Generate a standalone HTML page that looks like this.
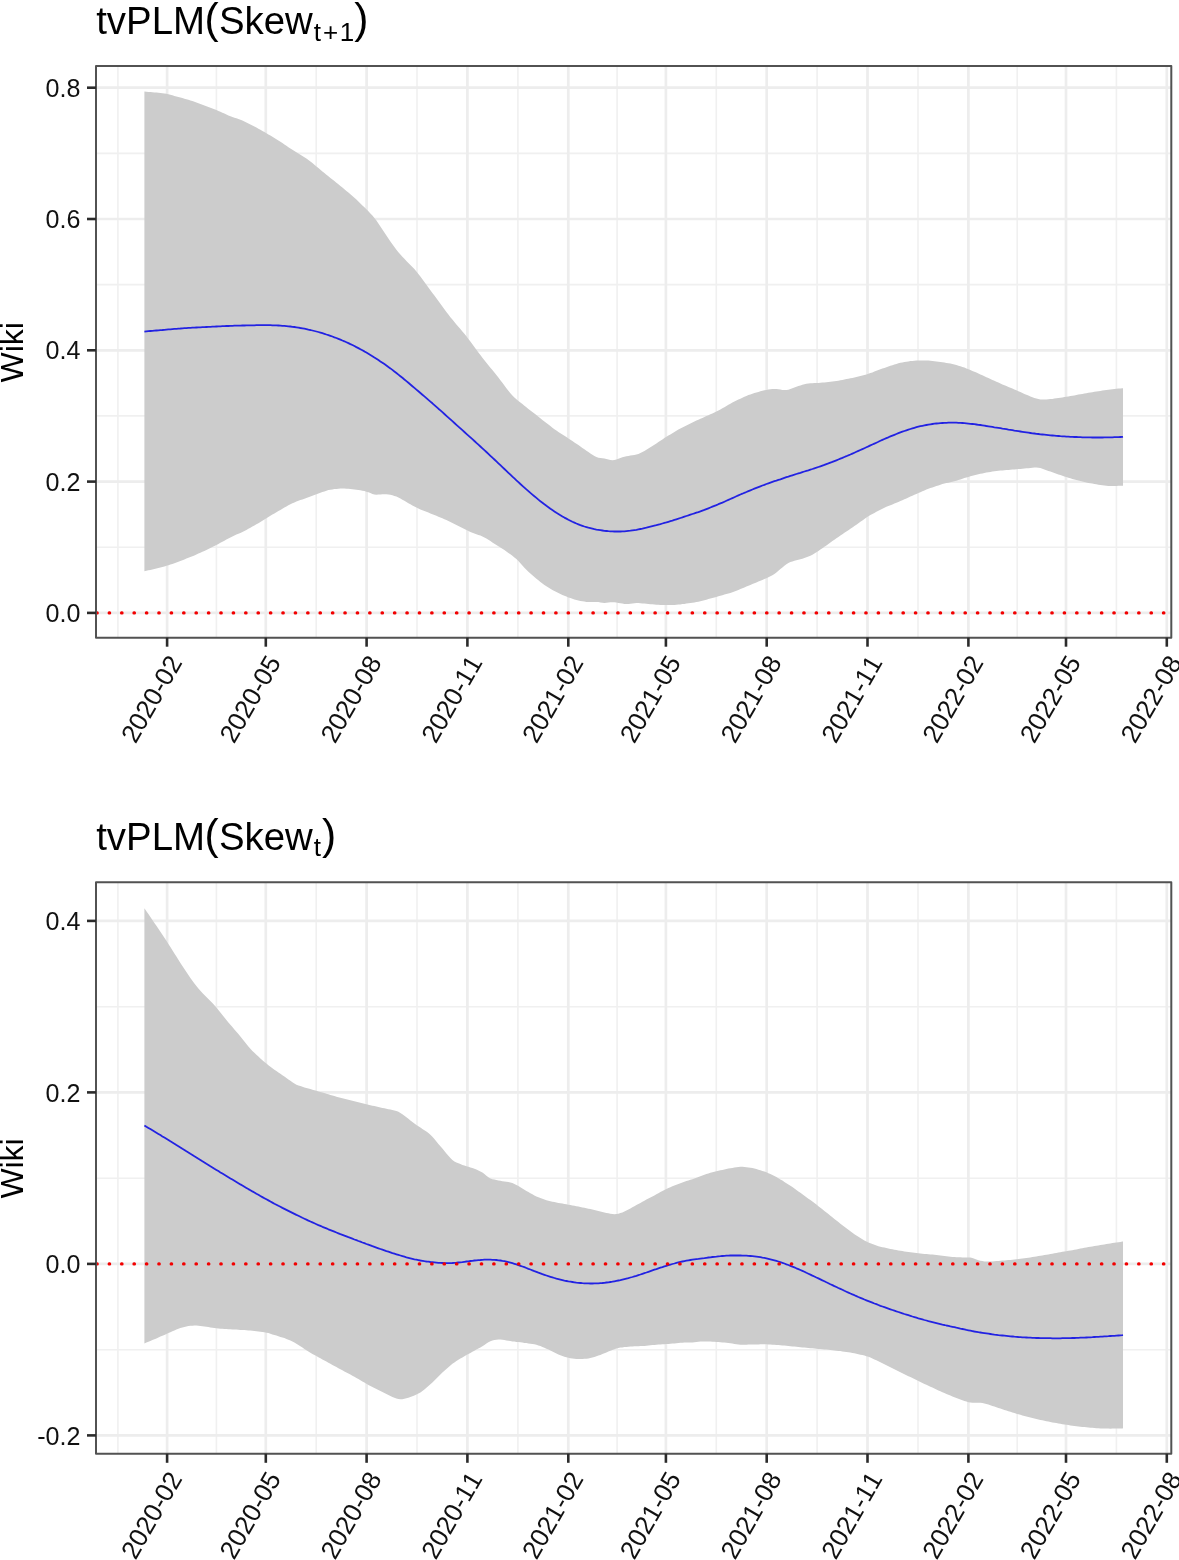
<!DOCTYPE html><html><head><meta charset="utf-8"><style>html,body{margin:0;padding:0;background:#fff}svg{display:block;filter:blur(0.45px)}text{font-kerning:none}</style></head><body><svg width="1179" height="1560" viewBox="0 0 1179 1560" font-family="Liberation Sans, sans-serif">
<rect width="100%" height="100%" fill="#fff"/>
<clipPath id="c1"><rect x="96.0" y="65.9" width="1075.3" height="571.8"/></clipPath>
<g clip-path="url(#c1)">
<line x1="96.0" x2="1171.3" y1="547.2" y2="547.2" stroke="#f0f0f0" stroke-width="1.6"/>
<line x1="96.0" x2="1171.3" y1="415.9" y2="415.9" stroke="#f0f0f0" stroke-width="1.6"/>
<line x1="96.0" x2="1171.3" y1="284.6" y2="284.6" stroke="#f0f0f0" stroke-width="1.6"/>
<line x1="96.0" x2="1171.3" y1="153.4" y2="153.4" stroke="#f0f0f0" stroke-width="1.6"/>
<line x1="117.9" x2="117.9" y1="65.9" y2="637.7" stroke="#f0f0f0" stroke-width="1.6"/>
<line x1="216.4" x2="216.4" y1="65.9" y2="637.7" stroke="#f0f0f0" stroke-width="1.6"/>
<line x1="316.2" x2="316.2" y1="65.9" y2="637.7" stroke="#f0f0f0" stroke-width="1.6"/>
<line x1="417.0" x2="417.0" y1="65.9" y2="637.7" stroke="#f0f0f0" stroke-width="1.6"/>
<line x1="517.9" x2="517.9" y1="65.9" y2="637.7" stroke="#f0f0f0" stroke-width="1.6"/>
<line x1="617.1" x2="617.1" y1="65.9" y2="637.7" stroke="#f0f0f0" stroke-width="1.6"/>
<line x1="716.3" x2="716.3" y1="65.9" y2="637.7" stroke="#f0f0f0" stroke-width="1.6"/>
<line x1="817.1" x2="817.1" y1="65.9" y2="637.7" stroke="#f0f0f0" stroke-width="1.6"/>
<line x1="918.0" x2="918.0" y1="65.9" y2="637.7" stroke="#f0f0f0" stroke-width="1.6"/>
<line x1="1017.2" x2="1017.2" y1="65.9" y2="637.7" stroke="#f0f0f0" stroke-width="1.6"/>
<line x1="1116.4" x2="1116.4" y1="65.9" y2="637.7" stroke="#f0f0f0" stroke-width="1.6"/>
<line x1="96.0" x2="1171.3" y1="612.9" y2="612.9" stroke="#ededed" stroke-width="2.7"/>
<line x1="96.0" x2="1171.3" y1="481.6" y2="481.6" stroke="#ededed" stroke-width="2.7"/>
<line x1="96.0" x2="1171.3" y1="350.3" y2="350.3" stroke="#ededed" stroke-width="2.7"/>
<line x1="96.0" x2="1171.3" y1="219.0" y2="219.0" stroke="#ededed" stroke-width="2.7"/>
<line x1="96.0" x2="1171.3" y1="87.7" y2="87.7" stroke="#ededed" stroke-width="2.7"/>
<line x1="167.1" x2="167.1" y1="65.9" y2="637.7" stroke="#ededed" stroke-width="2.7"/>
<line x1="265.8" x2="265.8" y1="65.9" y2="637.7" stroke="#ededed" stroke-width="2.7"/>
<line x1="366.6" x2="366.6" y1="65.9" y2="637.7" stroke="#ededed" stroke-width="2.7"/>
<line x1="467.4" x2="467.4" y1="65.9" y2="637.7" stroke="#ededed" stroke-width="2.7"/>
<line x1="568.3" x2="568.3" y1="65.9" y2="637.7" stroke="#ededed" stroke-width="2.7"/>
<line x1="665.9" x2="665.9" y1="65.9" y2="637.7" stroke="#ededed" stroke-width="2.7"/>
<line x1="766.7" x2="766.7" y1="65.9" y2="637.7" stroke="#ededed" stroke-width="2.7"/>
<line x1="867.5" x2="867.5" y1="65.9" y2="637.7" stroke="#ededed" stroke-width="2.7"/>
<line x1="968.4" x2="968.4" y1="65.9" y2="637.7" stroke="#ededed" stroke-width="2.7"/>
<line x1="1066.0" x2="1066.0" y1="65.9" y2="637.7" stroke="#ededed" stroke-width="2.7"/>
<line x1="1166.8" x2="1166.8" y1="65.9" y2="637.7" stroke="#ededed" stroke-width="2.7"/>
<path d="M144.4,91.6 L146.4,91.8 L148.4,92.0 L150.4,92.1 L152.4,92.3 L154.4,92.5 L156.4,92.6 L158.4,92.8 L160.4,93.0 L162.4,93.2 L164.4,93.4 L166.4,93.8 L168.4,94.2 L170.4,94.8 L172.4,95.3 L174.4,95.9 L176.4,96.4 L178.4,97.0 L180.4,97.5 L182.4,98.1 L184.4,98.7 L186.4,99.2 L188.4,99.8 L190.4,100.4 L192.4,101.1 L194.4,101.8 L196.4,102.5 L198.4,103.2 L200.4,104.0 L202.4,104.7 L204.4,105.5 L206.4,106.2 L208.4,106.9 L210.4,107.7 L212.4,108.4 L214.4,109.2 L216.4,110.0 L218.4,110.9 L220.4,111.8 L222.4,112.7 L224.4,113.6 L226.4,114.6 L228.4,115.5 L230.4,116.3 L232.4,117.1 L234.4,117.7 L236.4,118.3 L238.4,119.0 L240.4,119.7 L242.4,120.6 L244.4,121.6 L246.4,122.6 L248.4,123.6 L250.4,124.6 L252.4,125.6 L254.4,126.6 L256.4,127.6 L258.4,128.7 L260.4,129.8 L262.4,131.0 L264.4,132.1 L266.4,133.3 L268.4,134.4 L270.4,135.5 L272.4,136.7 L274.4,137.9 L276.4,139.2 L278.4,140.5 L280.4,141.8 L282.4,143.1 L284.4,144.5 L286.4,145.8 L288.4,147.2 L290.4,148.5 L292.4,149.8 L294.4,151.1 L296.4,152.3 L298.4,153.6 L300.4,154.8 L302.4,156.0 L304.4,157.3 L306.4,158.6 L308.4,160.0 L310.4,161.5 L312.4,163.1 L314.4,164.8 L316.4,166.5 L318.4,168.1 L320.4,169.8 L322.4,171.4 L324.4,173.1 L326.4,174.7 L328.4,176.3 L330.4,177.9 L332.4,179.5 L334.4,181.1 L336.4,182.7 L338.4,184.3 L340.4,186.0 L342.4,187.6 L344.4,189.3 L346.4,191.0 L348.4,192.6 L350.4,194.3 L352.4,196.0 L354.4,197.8 L356.4,199.6 L358.4,201.5 L360.4,203.4 L362.4,205.4 L364.4,207.3 L366.4,209.3 L368.4,211.3 L370.4,213.4 L372.4,215.6 L374.4,217.9 L376.4,220.5 L378.4,223.4 L380.4,226.5 L382.4,229.6 L384.4,232.6 L386.4,235.6 L388.4,238.5 L390.4,241.4 L392.4,244.3 L394.4,247.1 L396.4,249.8 L398.4,252.3 L400.4,254.5 L402.4,256.7 L404.4,258.8 L406.4,260.9 L408.4,263.0 L410.4,265.0 L412.4,267.0 L414.4,269.1 L416.4,271.4 L418.4,273.9 L420.4,276.6 L422.4,279.3 L424.4,282.0 L426.4,284.7 L428.4,287.4 L430.4,290.2 L432.4,292.9 L434.4,295.6 L436.4,298.3 L438.4,301.0 L440.4,303.7 L442.4,306.4 L444.4,309.2 L446.4,311.9 L448.4,314.5 L450.4,317.2 L452.4,319.6 L454.4,322.0 L456.4,324.4 L458.4,326.7 L460.4,329.1 L462.4,331.4 L464.4,333.8 L466.4,336.3 L468.4,338.9 L470.4,341.5 L472.4,344.2 L474.4,347.0 L476.4,349.7 L478.4,352.4 L480.4,355.1 L482.4,357.8 L484.4,360.3 L486.4,362.8 L488.4,365.3 L490.4,367.7 L492.4,370.1 L494.4,372.5 L496.4,375.0 L498.4,377.5 L500.4,380.2 L502.4,382.8 L504.4,385.5 L506.4,388.2 L508.4,390.8 L510.4,393.3 L512.4,395.5 L514.4,397.5 L516.4,399.2 L518.4,400.9 L520.4,402.5 L522.4,404.1 L524.4,405.7 L526.4,407.3 L528.4,408.9 L530.4,410.4 L532.4,412.0 L534.4,413.6 L536.4,415.1 L538.4,416.7 L540.4,418.3 L542.4,419.9 L544.4,421.4 L546.4,423.0 L548.4,424.6 L550.4,426.1 L552.4,427.7 L554.4,429.2 L556.4,430.6 L558.4,432.0 L560.4,433.3 L562.4,434.5 L564.4,435.8 L566.4,437.1 L568.4,438.4 L570.4,439.7 L572.4,441.0 L574.4,442.4 L576.4,443.7 L578.4,445.1 L580.4,446.5 L582.4,447.9 L584.4,449.3 L586.4,450.7 L588.4,452.1 L590.4,453.4 L592.4,454.7 L594.4,456.0 L596.4,457.0 L598.4,457.7 L600.4,458.1 L602.4,458.3 L604.4,458.6 L606.4,459.1 L608.4,459.6 L610.4,460.1 L612.4,460.3 L614.4,460.0 L616.4,459.4 L618.4,458.7 L620.4,458.0 L622.4,457.3 L624.4,456.7 L626.4,456.3 L628.4,455.9 L630.4,455.6 L632.4,455.2 L634.4,454.9 L636.4,454.5 L638.4,453.9 L640.4,453.1 L642.4,452.1 L644.4,451.0 L646.4,449.8 L648.4,448.6 L650.4,447.3 L652.4,446.1 L654.4,444.8 L656.4,443.5 L658.4,442.1 L660.4,440.8 L662.4,439.5 L664.4,438.1 L666.4,436.8 L668.4,435.6 L670.4,434.4 L672.4,433.2 L674.4,432.0 L676.4,430.8 L678.4,429.6 L680.4,428.5 L682.4,427.4 L684.4,426.4 L686.4,425.4 L688.4,424.4 L690.4,423.4 L692.4,422.4 L694.4,421.5 L696.4,420.6 L698.4,419.7 L700.4,418.8 L702.4,417.9 L704.4,417.0 L706.4,416.1 L708.4,415.2 L710.4,414.3 L712.4,413.4 L714.4,412.5 L716.4,411.6 L718.4,410.6 L720.4,409.5 L722.4,408.3 L724.4,407.2 L726.4,406.0 L728.4,404.8 L730.4,403.7 L732.4,402.6 L734.4,401.5 L736.4,400.6 L738.4,399.6 L740.4,398.7 L742.4,397.7 L744.4,396.8 L746.4,395.9 L748.4,395.1 L750.4,394.4 L752.4,393.7 L754.4,393.1 L756.4,392.5 L758.4,391.9 L760.4,391.3 L762.4,390.8 L764.4,390.3 L766.4,389.9 L768.4,389.5 L770.4,389.2 L772.4,388.9 L774.4,388.9 L776.4,389.0 L778.4,389.2 L780.4,389.6 L782.4,389.9 L784.4,390.1 L786.4,390.0 L788.4,389.7 L790.4,389.0 L792.4,388.3 L794.4,387.5 L796.4,386.8 L798.4,386.1 L800.4,385.4 L802.4,384.8 L804.4,384.3 L806.4,383.8 L808.4,383.5 L810.4,383.3 L812.4,383.2 L814.4,383.1 L816.4,383.0 L818.4,382.9 L820.4,382.7 L822.4,382.6 L824.4,382.4 L826.4,382.2 L828.4,382.0 L830.4,381.7 L832.4,381.5 L834.4,381.3 L836.4,381.0 L838.4,380.7 L840.4,380.3 L842.4,379.9 L844.4,379.5 L846.4,379.1 L848.4,378.7 L850.4,378.3 L852.4,377.9 L854.4,377.4 L856.4,376.9 L858.4,376.4 L860.4,375.9 L862.4,375.4 L864.4,374.9 L866.4,374.4 L868.4,373.8 L870.4,373.1 L872.4,372.4 L874.4,371.6 L876.4,370.8 L878.4,370.1 L880.4,369.3 L882.4,368.6 L884.4,367.9 L886.4,367.2 L888.4,366.5 L890.4,365.8 L892.4,365.2 L894.4,364.5 L896.4,363.9 L898.4,363.3 L900.4,362.8 L902.4,362.5 L904.4,362.1 L906.4,361.8 L908.4,361.5 L910.4,361.1 L912.4,360.9 L914.4,360.7 L916.4,360.6 L918.4,360.5 L920.4,360.5 L922.4,360.5 L924.4,360.5 L926.4,360.6 L928.4,360.6 L930.4,360.8 L932.4,361.0 L934.4,361.2 L936.4,361.5 L938.4,361.8 L940.4,362.0 L942.4,362.3 L944.4,362.6 L946.4,362.9 L948.4,363.2 L950.4,363.6 L952.4,364.0 L954.4,364.6 L956.4,365.1 L958.4,365.7 L960.4,366.3 L962.4,367.0 L964.4,367.6 L966.4,368.4 L968.4,369.2 L970.4,370.0 L972.4,370.9 L974.4,371.7 L976.4,372.6 L978.4,373.5 L980.4,374.4 L982.4,375.3 L984.4,376.3 L986.4,377.2 L988.4,378.1 L990.4,379.0 L992.4,379.9 L994.4,380.8 L996.4,381.7 L998.4,382.6 L1000.4,383.5 L1002.4,384.4 L1004.4,385.2 L1006.4,386.0 L1008.4,386.9 L1010.4,387.7 L1012.4,388.6 L1014.4,389.4 L1016.4,390.3 L1018.4,391.2 L1020.4,392.1 L1022.4,393.0 L1024.4,393.9 L1026.4,394.7 L1028.4,395.6 L1030.4,396.4 L1032.4,397.2 L1034.4,397.9 L1036.4,398.6 L1038.4,399.1 L1040.4,399.4 L1042.4,399.4 L1044.4,399.4 L1046.4,399.4 L1048.4,399.3 L1050.4,399.1 L1052.4,398.9 L1054.4,398.6 L1056.4,398.3 L1058.4,398.0 L1060.4,397.7 L1062.4,397.4 L1064.4,397.0 L1066.4,396.7 L1068.4,396.4 L1070.4,396.0 L1072.4,395.7 L1074.4,395.4 L1076.4,395.0 L1078.4,394.6 L1080.4,394.3 L1082.4,393.9 L1084.4,393.5 L1086.4,393.2 L1088.4,392.8 L1090.4,392.5 L1092.4,392.2 L1094.4,391.8 L1096.4,391.5 L1098.4,391.2 L1100.4,390.9 L1102.4,390.6 L1104.4,390.3 L1106.4,390.0 L1108.4,389.7 L1110.4,389.4 L1112.4,389.2 L1114.4,389.0 L1116.4,388.8 L1118.4,388.6 L1120.4,388.4 L1122.4,388.3 L1123.0,388.2 L1123.0,485.7 L1122.4,485.7 L1120.4,485.8 L1118.4,485.8 L1116.4,485.9 L1114.4,485.9 L1112.4,486.0 L1110.4,486.0 L1108.4,485.9 L1106.4,485.8 L1104.4,485.5 L1102.4,485.3 L1100.4,485.0 L1098.4,484.7 L1096.4,484.3 L1094.4,484.0 L1092.4,483.6 L1090.4,483.3 L1088.4,482.9 L1086.4,482.5 L1084.4,482.0 L1082.4,481.5 L1080.4,481.1 L1078.4,480.6 L1076.4,480.0 L1074.4,479.5 L1072.4,478.9 L1070.4,478.3 L1068.4,477.7 L1066.4,477.1 L1064.4,476.4 L1062.4,475.8 L1060.4,475.1 L1058.4,474.4 L1056.4,473.7 L1054.4,473.0 L1052.4,472.3 L1050.4,471.6 L1048.4,470.9 L1046.4,470.2 L1044.4,469.5 L1042.4,468.7 L1040.4,468.1 L1038.4,467.7 L1036.4,467.5 L1034.4,467.6 L1032.4,467.8 L1030.4,468.0 L1028.4,468.2 L1026.4,468.3 L1024.4,468.5 L1022.4,468.7 L1020.4,468.9 L1018.4,469.0 L1016.4,469.2 L1014.4,469.4 L1012.4,469.5 L1010.4,469.7 L1008.4,469.9 L1006.4,470.0 L1004.4,470.2 L1002.4,470.4 L1000.4,470.6 L998.4,470.8 L996.4,471.0 L994.4,471.3 L992.4,471.6 L990.4,471.9 L988.4,472.2 L986.4,472.6 L984.4,473.0 L982.4,473.4 L980.4,473.8 L978.4,474.2 L976.4,474.7 L974.4,475.2 L972.4,475.8 L970.4,476.3 L968.4,476.9 L966.4,477.5 L964.4,478.1 L962.4,478.8 L960.4,479.5 L958.4,480.1 L956.4,480.7 L954.4,481.3 L952.4,481.8 L950.4,482.3 L948.4,482.7 L946.4,483.1 L944.4,483.6 L942.4,484.1 L940.4,484.8 L938.4,485.4 L936.4,486.1 L934.4,486.7 L932.4,487.4 L930.4,488.1 L928.4,488.8 L926.4,489.6 L924.4,490.4 L922.4,491.3 L920.4,492.2 L918.4,493.0 L916.4,493.9 L914.4,494.8 L912.4,495.7 L910.4,496.6 L908.4,497.5 L906.4,498.4 L904.4,499.3 L902.4,500.2 L900.4,501.0 L898.4,501.9 L896.4,502.7 L894.4,503.5 L892.4,504.4 L890.4,505.2 L888.4,506.0 L886.4,506.8 L884.4,507.7 L882.4,508.7 L880.4,509.7 L878.4,510.8 L876.4,511.8 L874.4,512.9 L872.4,514.0 L870.4,515.1 L868.4,516.3 L866.4,517.6 L864.4,518.9 L862.4,520.4 L860.4,521.8 L858.4,523.2 L856.4,524.7 L854.4,526.1 L852.4,527.5 L850.4,528.8 L848.4,530.2 L846.4,531.5 L844.4,532.8 L842.4,534.2 L840.4,535.5 L838.4,536.9 L836.4,538.3 L834.4,539.7 L832.4,541.1 L830.4,542.5 L828.4,544.0 L826.4,545.4 L824.4,546.8 L822.4,548.2 L820.4,549.6 L818.4,551.0 L816.4,552.3 L814.4,553.6 L812.4,554.8 L810.4,555.7 L808.4,556.6 L806.4,557.3 L804.4,558.1 L802.4,558.7 L800.4,559.3 L798.4,559.8 L796.4,560.3 L794.4,560.8 L792.4,561.4 L790.4,562.1 L788.4,563.0 L786.4,564.3 L784.4,565.8 L782.4,567.4 L780.4,569.1 L778.4,570.8 L776.4,572.5 L774.4,574.0 L772.4,575.3 L770.4,576.3 L768.4,577.3 L766.4,578.2 L764.4,579.1 L762.4,579.9 L760.4,580.8 L758.4,581.6 L756.4,582.4 L754.4,583.3 L752.4,584.1 L750.4,584.9 L748.4,585.8 L746.4,586.6 L744.4,587.4 L742.4,588.3 L740.4,589.1 L738.4,589.9 L736.4,590.8 L734.4,591.5 L732.4,592.2 L730.4,592.9 L728.4,593.5 L726.4,594.0 L724.4,594.6 L722.4,595.2 L720.4,595.8 L718.4,596.3 L716.4,596.9 L714.4,597.5 L712.4,598.0 L710.4,598.6 L708.4,599.1 L706.4,599.7 L704.4,600.3 L702.4,600.8 L700.4,601.3 L698.4,601.7 L696.4,602.1 L694.4,602.4 L692.4,602.7 L690.4,603.0 L688.4,603.3 L686.4,603.6 L684.4,603.9 L682.4,604.1 L680.4,604.4 L678.4,604.6 L676.4,604.8 L674.4,605.0 L672.4,605.1 L670.4,605.1 L668.4,605.1 L666.4,605.1 L664.4,605.1 L662.4,605.0 L660.4,604.9 L658.4,604.8 L656.4,604.7 L654.4,604.5 L652.4,604.3 L650.4,604.2 L648.4,604.0 L646.4,603.8 L644.4,603.6 L642.4,603.4 L640.4,603.2 L638.4,603.1 L636.4,603.0 L634.4,603.2 L632.4,603.4 L630.4,603.7 L628.4,603.9 L626.4,604.0 L624.4,603.9 L622.4,603.6 L620.4,603.2 L618.4,602.9 L616.4,602.6 L614.4,602.3 L612.4,602.2 L610.4,602.2 L608.4,602.4 L606.4,602.8 L604.4,603.0 L602.4,602.8 L600.4,602.5 L598.4,602.1 L596.4,602.0 L594.4,602.0 L592.4,602.1 L590.4,602.1 L588.4,602.1 L586.4,601.9 L584.4,601.6 L582.4,601.3 L580.4,600.9 L578.4,600.5 L576.4,600.0 L574.4,599.4 L572.4,598.8 L570.4,598.1 L568.4,597.4 L566.4,596.6 L564.4,595.8 L562.4,594.9 L560.4,594.0 L558.4,593.0 L556.4,592.0 L554.4,591.0 L552.4,589.9 L550.4,588.7 L548.4,587.6 L546.4,586.3 L544.4,584.9 L542.4,583.4 L540.4,581.9 L538.4,580.3 L536.4,578.7 L534.4,577.0 L532.4,575.3 L530.4,573.5 L528.4,571.7 L526.4,569.8 L524.4,567.7 L522.4,565.4 L520.4,563.2 L518.4,561.1 L516.4,559.1 L514.4,557.4 L512.4,555.8 L510.4,554.3 L508.4,552.9 L506.4,551.4 L504.4,550.1 L502.4,548.8 L500.4,547.6 L498.4,546.3 L496.4,545.0 L494.4,543.8 L492.4,542.4 L490.4,541.1 L488.4,539.8 L486.4,538.5 L484.4,537.4 L482.4,536.4 L480.4,535.6 L478.4,534.9 L476.4,534.2 L474.4,533.5 L472.4,532.8 L470.4,531.9 L468.4,531.0 L466.4,530.1 L464.4,529.1 L462.4,528.1 L460.4,527.1 L458.4,526.1 L456.4,525.1 L454.4,524.1 L452.4,523.1 L450.4,522.1 L448.4,521.1 L446.4,520.1 L444.4,519.2 L442.4,518.3 L440.4,517.5 L438.4,516.7 L436.4,515.8 L434.4,515.0 L432.4,514.2 L430.4,513.4 L428.4,512.6 L426.4,511.8 L424.4,511.0 L422.4,510.3 L420.4,509.4 L418.4,508.5 L416.4,507.6 L414.4,506.5 L412.4,505.5 L410.4,504.3 L408.4,503.2 L406.4,502.0 L404.4,500.8 L402.4,499.7 L400.4,498.6 L398.4,497.5 L396.4,496.6 L394.4,495.9 L392.4,495.3 L390.4,494.8 L388.4,494.5 L386.4,494.3 L384.4,494.3 L382.4,494.3 L380.4,494.4 L378.4,494.6 L376.4,494.7 L374.4,494.5 L372.4,493.9 L370.4,493.1 L368.4,492.3 L366.4,491.7 L364.4,491.1 L362.4,490.7 L360.4,490.3 L358.4,490.0 L356.4,489.7 L354.4,489.4 L352.4,489.2 L350.4,489.0 L348.4,488.8 L346.4,488.7 L344.4,488.6 L342.4,488.5 L340.4,488.5 L338.4,488.7 L336.4,488.9 L334.4,489.1 L332.4,489.4 L330.4,489.7 L328.4,490.1 L326.4,490.7 L324.4,491.4 L322.4,492.1 L320.4,492.8 L318.4,493.6 L316.4,494.3 L314.4,495.1 L312.4,495.8 L310.4,496.6 L308.4,497.3 L306.4,498.0 L304.4,498.7 L302.4,499.4 L300.4,500.1 L298.4,500.8 L296.4,501.5 L294.4,502.4 L292.4,503.3 L290.4,504.3 L288.4,505.3 L286.4,506.4 L284.4,507.6 L282.4,508.7 L280.4,509.9 L278.4,511.1 L276.4,512.2 L274.4,513.4 L272.4,514.6 L270.4,515.8 L268.4,517.0 L266.4,518.3 L264.4,519.5 L262.4,520.7 L260.4,522.0 L258.4,523.2 L256.4,524.3 L254.4,525.5 L252.4,526.6 L250.4,527.7 L248.4,528.8 L246.4,529.9 L244.4,530.9 L242.4,532.0 L240.4,532.9 L238.4,533.7 L236.4,534.6 L234.4,535.5 L232.4,536.4 L230.4,537.5 L228.4,538.5 L226.4,539.6 L224.4,540.7 L222.4,541.7 L220.4,542.8 L218.4,543.9 L216.4,544.9 L214.4,546.0 L212.4,547.0 L210.4,548.0 L208.4,549.0 L206.4,549.9 L204.4,550.9 L202.4,551.8 L200.4,552.7 L198.4,553.6 L196.4,554.5 L194.4,555.4 L192.4,556.2 L190.4,557.0 L188.4,557.8 L186.4,558.6 L184.4,559.4 L182.4,560.2 L180.4,561.0 L178.4,561.7 L176.4,562.4 L174.4,563.2 L172.4,563.9 L170.4,564.6 L168.4,565.2 L166.4,565.8 L164.4,566.4 L162.4,566.9 L160.4,567.4 L158.4,567.9 L156.4,568.4 L154.4,568.9 L152.4,569.4 L150.4,569.9 L148.4,570.3 L146.4,570.8 L144.4,571.2Z" fill="#cccccc"/>
<path d="M144.4,331.6 L146.4,331.4 L148.4,331.2 L150.4,331.0 L152.4,330.9 L154.4,330.7 L156.4,330.5 L158.4,330.3 L160.4,330.1 L162.4,330.0 L164.4,329.8 L166.4,329.6 L168.4,329.4 L170.4,329.3 L172.4,329.1 L174.4,328.9 L176.4,328.8 L178.4,328.6 L180.4,328.5 L182.4,328.3 L184.4,328.2 L186.4,328.1 L188.4,327.9 L190.4,327.8 L192.4,327.7 L194.4,327.6 L196.4,327.5 L198.4,327.4 L200.4,327.3 L202.4,327.2 L204.4,327.1 L206.4,327.0 L208.4,326.9 L210.4,326.8 L212.4,326.7 L214.4,326.6 L216.4,326.5 L218.4,326.4 L220.4,326.3 L222.4,326.2 L224.4,326.1 L226.4,326.0 L228.4,326.0 L230.4,325.9 L232.4,325.8 L234.4,325.7 L236.4,325.7 L238.4,325.6 L240.4,325.6 L242.4,325.5 L244.4,325.5 L246.4,325.4 L248.4,325.4 L250.4,325.3 L252.4,325.3 L254.4,325.3 L256.4,325.2 L258.4,325.2 L260.4,325.2 L262.4,325.2 L264.4,325.2 L266.4,325.2 L268.4,325.2 L270.4,325.2 L272.4,325.3 L274.4,325.4 L276.4,325.4 L278.4,325.5 L280.4,325.6 L282.4,325.8 L284.4,325.9 L286.4,326.1 L288.4,326.3 L290.4,326.5 L292.4,326.8 L294.4,327.0 L296.4,327.3 L298.4,327.6 L300.4,328.0 L302.4,328.3 L304.4,328.7 L306.4,329.1 L308.4,329.6 L310.4,330.0 L312.4,330.5 L314.4,331.0 L316.4,331.5 L318.4,332.0 L320.4,332.6 L322.4,333.2 L324.4,333.8 L326.4,334.5 L328.4,335.1 L330.4,335.8 L332.4,336.5 L334.4,337.3 L336.4,338.0 L338.4,338.8 L340.4,339.6 L342.4,340.5 L344.4,341.3 L346.4,342.2 L348.4,343.1 L350.4,344.1 L352.4,345.0 L354.4,346.0 L356.4,347.1 L358.4,348.1 L360.4,349.2 L362.4,350.3 L364.4,351.4 L366.4,352.6 L368.4,353.8 L370.4,355.0 L372.4,356.2 L374.4,357.5 L376.4,358.7 L378.4,360.0 L380.4,361.4 L382.4,362.7 L384.4,364.1 L386.4,365.5 L388.4,367.0 L390.4,368.4 L392.4,369.9 L394.4,371.5 L396.4,373.0 L398.4,374.6 L400.4,376.2 L402.4,377.8 L404.4,379.5 L406.4,381.1 L408.4,382.8 L410.4,384.5 L412.4,386.2 L414.4,387.9 L416.4,389.6 L418.4,391.3 L420.4,393.0 L422.4,394.7 L424.4,396.4 L426.4,398.1 L428.4,399.9 L430.4,401.6 L432.4,403.3 L434.4,405.1 L436.4,406.9 L438.4,408.7 L440.4,410.4 L442.4,412.2 L444.4,414.0 L446.4,415.8 L448.4,417.6 L450.4,419.4 L452.4,421.2 L454.4,423.0 L456.4,424.8 L458.4,426.6 L460.4,428.4 L462.4,430.2 L464.4,432.0 L466.4,433.8 L468.4,435.6 L470.4,437.4 L472.4,439.2 L474.4,441.0 L476.4,442.9 L478.4,444.7 L480.4,446.5 L482.4,448.3 L484.4,450.2 L486.4,452.0 L488.4,453.9 L490.4,455.8 L492.4,457.7 L494.4,459.5 L496.4,461.4 L498.4,463.3 L500.4,465.2 L502.4,467.1 L504.4,469.0 L506.4,470.9 L508.4,472.8 L510.4,474.7 L512.4,476.6 L514.4,478.4 L516.4,480.3 L518.4,482.1 L520.4,484.0 L522.4,485.8 L524.4,487.6 L526.4,489.4 L528.4,491.1 L530.4,492.9 L532.4,494.6 L534.4,496.3 L536.4,497.9 L538.4,499.6 L540.4,501.2 L542.4,502.7 L544.4,504.3 L546.4,505.8 L548.4,507.2 L550.4,508.7 L552.4,510.1 L554.4,511.4 L556.4,512.8 L558.4,514.0 L560.4,515.2 L562.4,516.4 L564.4,517.6 L566.4,518.6 L568.4,519.7 L570.4,520.7 L572.4,521.7 L574.4,522.6 L576.4,523.5 L578.4,524.3 L580.4,525.1 L582.4,525.8 L584.4,526.5 L586.4,527.1 L588.4,527.7 L590.4,528.2 L592.4,528.7 L594.4,529.2 L596.4,529.6 L598.4,529.9 L600.4,530.2 L602.4,530.5 L604.4,530.8 L606.4,531.0 L608.4,531.2 L610.4,531.3 L612.4,531.4 L614.4,531.5 L616.4,531.5 L618.4,531.5 L620.4,531.5 L622.4,531.4 L624.4,531.3 L626.4,531.1 L628.4,530.9 L630.4,530.7 L632.4,530.4 L634.4,530.1 L636.4,529.8 L638.4,529.4 L640.4,529.0 L642.4,528.6 L644.4,528.1 L646.4,527.7 L648.4,527.2 L650.4,526.7 L652.4,526.2 L654.4,525.7 L656.4,525.2 L658.4,524.6 L660.4,524.1 L662.4,523.5 L664.4,522.9 L666.4,522.4 L668.4,521.8 L670.4,521.2 L672.4,520.6 L674.4,519.9 L676.4,519.3 L678.4,518.7 L680.4,518.0 L682.4,517.4 L684.4,516.7 L686.4,516.0 L688.4,515.4 L690.4,514.7 L692.4,514.0 L694.4,513.4 L696.4,512.7 L698.4,512.1 L700.4,511.4 L702.4,510.6 L704.4,509.9 L706.4,509.1 L708.4,508.3 L710.4,507.5 L712.4,506.7 L714.4,505.9 L716.4,505.1 L718.4,504.2 L720.4,503.4 L722.4,502.6 L724.4,501.7 L726.4,500.8 L728.4,499.9 L730.4,499.0 L732.4,498.1 L734.4,497.2 L736.4,496.3 L738.4,495.4 L740.4,494.5 L742.4,493.7 L744.4,492.8 L746.4,492.0 L748.4,491.1 L750.4,490.3 L752.4,489.5 L754.4,488.7 L756.4,487.9 L758.4,487.1 L760.4,486.3 L762.4,485.5 L764.4,484.8 L766.4,484.0 L768.4,483.3 L770.4,482.6 L772.4,481.9 L774.4,481.2 L776.4,480.6 L778.4,479.9 L780.4,479.3 L782.4,478.6 L784.4,477.9 L786.4,477.2 L788.4,476.6 L790.4,475.9 L792.4,475.3 L794.4,474.7 L796.4,474.0 L798.4,473.4 L800.4,472.8 L802.4,472.1 L804.4,471.5 L806.4,470.9 L808.4,470.3 L810.4,469.6 L812.4,469.0 L814.4,468.3 L816.4,467.7 L818.4,467.0 L820.4,466.3 L822.4,465.6 L824.4,464.9 L826.4,464.1 L828.4,463.4 L830.4,462.6 L832.4,461.9 L834.4,461.1 L836.4,460.3 L838.4,459.5 L840.4,458.7 L842.4,457.9 L844.4,457.0 L846.4,456.2 L848.4,455.3 L850.4,454.5 L852.4,453.6 L854.4,452.7 L856.4,451.8 L858.4,450.9 L860.4,450.0 L862.4,449.1 L864.4,448.2 L866.4,447.3 L868.4,446.4 L870.4,445.4 L872.4,444.5 L874.4,443.6 L876.4,442.7 L878.4,441.8 L880.4,440.8 L882.4,439.9 L884.4,439.0 L886.4,438.1 L888.4,437.3 L890.4,436.4 L892.4,435.6 L894.4,434.8 L896.4,434.0 L898.4,433.2 L900.4,432.4 L902.4,431.7 L904.4,431.0 L906.4,430.3 L908.4,429.6 L910.4,429.0 L912.4,428.4 L914.4,427.8 L916.4,427.2 L918.4,426.7 L920.4,426.2 L922.4,425.8 L924.4,425.4 L926.4,425.0 L928.4,424.6 L930.4,424.3 L932.4,424.0 L934.4,423.7 L936.4,423.5 L938.4,423.3 L940.4,423.1 L942.4,423.0 L944.4,422.9 L946.4,422.8 L948.4,422.7 L950.4,422.7 L952.4,422.7 L954.4,422.7 L956.4,422.7 L958.4,422.8 L960.4,422.9 L962.4,423.0 L964.4,423.2 L966.4,423.4 L968.4,423.6 L970.4,423.8 L972.4,424.0 L974.4,424.2 L976.4,424.5 L978.4,424.8 L980.4,425.0 L982.4,425.3 L984.4,425.6 L986.4,426.0 L988.4,426.3 L990.4,426.6 L992.4,426.9 L994.4,427.3 L996.4,427.6 L998.4,427.9 L1000.4,428.2 L1002.4,428.6 L1004.4,428.9 L1006.4,429.2 L1008.4,429.6 L1010.4,429.9 L1012.4,430.2 L1014.4,430.6 L1016.4,430.9 L1018.4,431.2 L1020.4,431.5 L1022.4,431.8 L1024.4,432.1 L1026.4,432.4 L1028.4,432.7 L1030.4,433.0 L1032.4,433.3 L1034.4,433.5 L1036.4,433.8 L1038.4,434.0 L1040.4,434.3 L1042.4,434.5 L1044.4,434.7 L1046.4,434.9 L1048.4,435.1 L1050.4,435.3 L1052.4,435.5 L1054.4,435.7 L1056.4,435.9 L1058.4,436.0 L1060.4,436.2 L1062.4,436.3 L1064.4,436.4 L1066.4,436.6 L1068.4,436.7 L1070.4,436.8 L1072.4,436.9 L1074.4,437.0 L1076.4,437.0 L1078.4,437.1 L1080.4,437.2 L1082.4,437.3 L1084.4,437.3 L1086.4,437.4 L1088.4,437.4 L1090.4,437.4 L1092.4,437.5 L1094.4,437.5 L1096.4,437.5 L1098.4,437.5 L1100.4,437.5 L1102.4,437.5 L1104.4,437.4 L1106.4,437.4 L1108.4,437.4 L1110.4,437.3 L1112.4,437.3 L1114.4,437.2 L1116.4,437.1 L1118.4,437.1 L1120.4,437.0 L1122.4,436.9 L1123.0,436.8" fill="none" stroke="#2222e2" stroke-width="1.8" stroke-linejoin="round"/>
<line x1="96.75" x2="1171.3" y1="612.9" y2="612.9" stroke="#f20000" stroke-width="3.2" stroke-linecap="round" stroke-dasharray="0.5 11.903"/>
</g>
<rect x="96.0" y="65.9" width="1075.3" height="571.8" fill="none" stroke="#525252" stroke-width="2.0" stroke-linejoin="round"/>
<line x1="87.0" x2="96.0" y1="612.9" y2="612.9" stroke="#2b2b2b" stroke-width="2.6"/>
<text transform="translate(80.5,622.0) scale(0.985,1)" text-anchor="end" font-size="25.5" fill="#111">0.0</text>
<line x1="87.0" x2="96.0" y1="481.6" y2="481.6" stroke="#2b2b2b" stroke-width="2.6"/>
<text transform="translate(80.5,490.7) scale(0.985,1)" text-anchor="end" font-size="25.5" fill="#111">0.2</text>
<line x1="87.0" x2="96.0" y1="350.3" y2="350.3" stroke="#2b2b2b" stroke-width="2.6"/>
<text transform="translate(80.5,359.4) scale(0.985,1)" text-anchor="end" font-size="25.5" fill="#111">0.4</text>
<line x1="87.0" x2="96.0" y1="219.0" y2="219.0" stroke="#2b2b2b" stroke-width="2.6"/>
<text transform="translate(80.5,228.1) scale(0.985,1)" text-anchor="end" font-size="25.5" fill="#111">0.6</text>
<line x1="87.0" x2="96.0" y1="87.7" y2="87.7" stroke="#2b2b2b" stroke-width="2.6"/>
<text transform="translate(80.5,96.8) scale(0.985,1)" text-anchor="end" font-size="25.5" fill="#111">0.8</text>
<line x1="167.1" x2="167.1" y1="637.7" y2="646.7" stroke="#2b2b2b" stroke-width="2.6"/>
<text transform="translate(182.9,662.3) rotate(-60)" text-anchor="end" font-size="25.9" fill="#111">2020-02</text>
<line x1="265.8" x2="265.8" y1="637.7" y2="646.7" stroke="#2b2b2b" stroke-width="2.6"/>
<text transform="translate(281.6,662.3) rotate(-60)" text-anchor="end" font-size="25.9" fill="#111">2020-05</text>
<line x1="366.6" x2="366.6" y1="637.7" y2="646.7" stroke="#2b2b2b" stroke-width="2.6"/>
<text transform="translate(382.4,662.3) rotate(-60)" text-anchor="end" font-size="25.9" fill="#111">2020-08</text>
<line x1="467.4" x2="467.4" y1="637.7" y2="646.7" stroke="#2b2b2b" stroke-width="2.6"/>
<text transform="translate(483.2,662.3) rotate(-60)" text-anchor="end" font-size="25.9" fill="#111">2020-11</text>
<line x1="568.3" x2="568.3" y1="637.7" y2="646.7" stroke="#2b2b2b" stroke-width="2.6"/>
<text transform="translate(584.1,662.3) rotate(-60)" text-anchor="end" font-size="25.9" fill="#111">2021-02</text>
<line x1="665.9" x2="665.9" y1="637.7" y2="646.7" stroke="#2b2b2b" stroke-width="2.6"/>
<text transform="translate(681.7,662.3) rotate(-60)" text-anchor="end" font-size="25.9" fill="#111">2021-05</text>
<line x1="766.7" x2="766.7" y1="637.7" y2="646.7" stroke="#2b2b2b" stroke-width="2.6"/>
<text transform="translate(782.5,662.3) rotate(-60)" text-anchor="end" font-size="25.9" fill="#111">2021-08</text>
<line x1="867.5" x2="867.5" y1="637.7" y2="646.7" stroke="#2b2b2b" stroke-width="2.6"/>
<text transform="translate(883.3,662.3) rotate(-60)" text-anchor="end" font-size="25.9" fill="#111">2021-11</text>
<line x1="968.4" x2="968.4" y1="637.7" y2="646.7" stroke="#2b2b2b" stroke-width="2.6"/>
<text transform="translate(984.2,662.3) rotate(-60)" text-anchor="end" font-size="25.9" fill="#111">2022-02</text>
<line x1="1066.0" x2="1066.0" y1="637.7" y2="646.7" stroke="#2b2b2b" stroke-width="2.6"/>
<text transform="translate(1081.8,662.3) rotate(-60)" text-anchor="end" font-size="25.9" fill="#111">2022-05</text>
<line x1="1166.8" x2="1166.8" y1="637.7" y2="646.7" stroke="#2b2b2b" stroke-width="2.6"/>
<text transform="translate(1182.6,662.3) rotate(-60)" text-anchor="end" font-size="25.9" fill="#111">2022-08</text>
<text transform="translate(22.6,352.3) rotate(-90)" text-anchor="middle" font-size="31.9" fill="#000">Wiki</text>
<clipPath id="c2"><rect x="96.0" y="882.3" width="1075.3" height="571.5"/></clipPath>
<g clip-path="url(#c2)">
<line x1="96.0" x2="1171.3" y1="1349.7" y2="1349.7" stroke="#f0f0f0" stroke-width="1.6"/>
<line x1="96.0" x2="1171.3" y1="1178.2" y2="1178.2" stroke="#f0f0f0" stroke-width="1.6"/>
<line x1="96.0" x2="1171.3" y1="1006.7" y2="1006.7" stroke="#f0f0f0" stroke-width="1.6"/>
<line x1="117.9" x2="117.9" y1="882.3" y2="1453.8" stroke="#f0f0f0" stroke-width="1.6"/>
<line x1="216.4" x2="216.4" y1="882.3" y2="1453.8" stroke="#f0f0f0" stroke-width="1.6"/>
<line x1="316.2" x2="316.2" y1="882.3" y2="1453.8" stroke="#f0f0f0" stroke-width="1.6"/>
<line x1="417.0" x2="417.0" y1="882.3" y2="1453.8" stroke="#f0f0f0" stroke-width="1.6"/>
<line x1="517.9" x2="517.9" y1="882.3" y2="1453.8" stroke="#f0f0f0" stroke-width="1.6"/>
<line x1="617.1" x2="617.1" y1="882.3" y2="1453.8" stroke="#f0f0f0" stroke-width="1.6"/>
<line x1="716.3" x2="716.3" y1="882.3" y2="1453.8" stroke="#f0f0f0" stroke-width="1.6"/>
<line x1="817.1" x2="817.1" y1="882.3" y2="1453.8" stroke="#f0f0f0" stroke-width="1.6"/>
<line x1="918.0" x2="918.0" y1="882.3" y2="1453.8" stroke="#f0f0f0" stroke-width="1.6"/>
<line x1="1017.2" x2="1017.2" y1="882.3" y2="1453.8" stroke="#f0f0f0" stroke-width="1.6"/>
<line x1="1116.4" x2="1116.4" y1="882.3" y2="1453.8" stroke="#f0f0f0" stroke-width="1.6"/>
<line x1="96.0" x2="1171.3" y1="1435.4" y2="1435.4" stroke="#ededed" stroke-width="2.7"/>
<line x1="96.0" x2="1171.3" y1="1263.9" y2="1263.9" stroke="#ededed" stroke-width="2.7"/>
<line x1="96.0" x2="1171.3" y1="1092.4" y2="1092.4" stroke="#ededed" stroke-width="2.7"/>
<line x1="96.0" x2="1171.3" y1="920.9" y2="920.9" stroke="#ededed" stroke-width="2.7"/>
<line x1="167.1" x2="167.1" y1="882.3" y2="1453.8" stroke="#ededed" stroke-width="2.7"/>
<line x1="265.8" x2="265.8" y1="882.3" y2="1453.8" stroke="#ededed" stroke-width="2.7"/>
<line x1="366.6" x2="366.6" y1="882.3" y2="1453.8" stroke="#ededed" stroke-width="2.7"/>
<line x1="467.4" x2="467.4" y1="882.3" y2="1453.8" stroke="#ededed" stroke-width="2.7"/>
<line x1="568.3" x2="568.3" y1="882.3" y2="1453.8" stroke="#ededed" stroke-width="2.7"/>
<line x1="665.9" x2="665.9" y1="882.3" y2="1453.8" stroke="#ededed" stroke-width="2.7"/>
<line x1="766.7" x2="766.7" y1="882.3" y2="1453.8" stroke="#ededed" stroke-width="2.7"/>
<line x1="867.5" x2="867.5" y1="882.3" y2="1453.8" stroke="#ededed" stroke-width="2.7"/>
<line x1="968.4" x2="968.4" y1="882.3" y2="1453.8" stroke="#ededed" stroke-width="2.7"/>
<line x1="1066.0" x2="1066.0" y1="882.3" y2="1453.8" stroke="#ededed" stroke-width="2.7"/>
<line x1="1166.8" x2="1166.8" y1="882.3" y2="1453.8" stroke="#ededed" stroke-width="2.7"/>
<path d="M144.4,908.3 L146.4,911.2 L148.4,914.1 L150.4,917.0 L152.4,919.9 L154.4,922.9 L156.4,925.8 L158.4,928.8 L160.4,931.8 L162.4,934.8 L164.4,937.8 L166.4,940.8 L168.4,943.9 L170.4,947.0 L172.4,950.2 L174.4,953.4 L176.4,956.6 L178.4,959.8 L180.4,962.9 L182.4,966.0 L184.4,969.0 L186.4,972.0 L188.4,975.0 L190.4,977.9 L192.4,980.8 L194.4,983.5 L196.4,986.1 L198.4,988.6 L200.4,990.8 L202.4,992.9 L204.4,994.9 L206.4,996.9 L208.4,998.9 L210.4,1001.0 L212.4,1003.0 L214.4,1005.2 L216.4,1007.6 L218.4,1010.1 L220.4,1012.5 L222.4,1015.0 L224.4,1017.5 L226.4,1020.0 L228.4,1022.5 L230.4,1024.8 L232.4,1027.1 L234.4,1029.4 L236.4,1031.7 L238.4,1034.0 L240.4,1036.4 L242.4,1038.9 L244.4,1041.5 L246.4,1044.1 L248.4,1046.5 L250.4,1048.8 L252.4,1050.9 L254.4,1052.8 L256.4,1054.7 L258.4,1056.6 L260.4,1058.4 L262.4,1060.2 L264.4,1061.9 L266.4,1063.6 L268.4,1065.2 L270.4,1066.8 L272.4,1068.2 L274.4,1069.7 L276.4,1071.1 L278.4,1072.5 L280.4,1073.8 L282.4,1075.2 L284.4,1076.5 L286.4,1077.9 L288.4,1079.4 L290.4,1080.8 L292.4,1082.3 L294.4,1083.6 L296.4,1084.7 L298.4,1085.5 L300.4,1086.1 L302.4,1086.8 L304.4,1087.4 L306.4,1088.0 L308.4,1088.5 L310.4,1089.1 L312.4,1089.7 L314.4,1090.3 L316.4,1090.8 L318.4,1091.4 L320.4,1092.0 L322.4,1092.5 L324.4,1093.1 L326.4,1093.7 L328.4,1094.3 L330.4,1094.9 L332.4,1095.5 L334.4,1096.1 L336.4,1096.7 L338.4,1097.3 L340.4,1097.8 L342.4,1098.3 L344.4,1098.8 L346.4,1099.3 L348.4,1099.8 L350.4,1100.3 L352.4,1100.8 L354.4,1101.3 L356.4,1101.8 L358.4,1102.3 L360.4,1102.8 L362.4,1103.3 L364.4,1103.8 L366.4,1104.3 L368.4,1104.8 L370.4,1105.3 L372.4,1105.7 L374.4,1106.1 L376.4,1106.6 L378.4,1107.0 L380.4,1107.4 L382.4,1107.9 L384.4,1108.3 L386.4,1108.7 L388.4,1109.2 L390.4,1109.6 L392.4,1110.1 L394.4,1110.5 L396.4,1111.1 L398.4,1111.8 L400.4,1112.9 L402.4,1114.3 L404.4,1115.7 L406.4,1117.3 L408.4,1118.8 L410.4,1120.4 L412.4,1122.0 L414.4,1123.5 L416.4,1124.9 L418.4,1126.3 L420.4,1127.6 L422.4,1128.9 L424.4,1130.2 L426.4,1131.6 L428.4,1133.0 L430.4,1134.7 L432.4,1136.8 L434.4,1139.1 L436.4,1141.5 L438.4,1143.9 L440.4,1146.3 L442.4,1148.6 L444.4,1151.0 L446.4,1153.4 L448.4,1155.7 L450.4,1157.9 L452.4,1159.9 L454.4,1161.4 L456.4,1162.5 L458.4,1163.3 L460.4,1164.1 L462.4,1164.9 L464.4,1165.6 L466.4,1166.2 L468.4,1166.8 L470.4,1167.5 L472.4,1168.1 L474.4,1168.8 L476.4,1169.6 L478.4,1170.5 L480.4,1171.5 L482.4,1172.6 L484.4,1174.1 L486.4,1175.8 L488.4,1177.3 L490.4,1178.5 L492.4,1179.2 L494.4,1179.6 L496.4,1180.0 L498.4,1180.4 L500.4,1180.8 L502.4,1181.3 L504.4,1181.6 L506.4,1181.7 L508.4,1181.9 L510.4,1182.4 L512.4,1183.1 L514.4,1184.0 L516.4,1184.9 L518.4,1186.0 L520.4,1187.2 L522.4,1188.5 L524.4,1189.7 L526.4,1190.9 L528.4,1192.1 L530.4,1193.2 L532.4,1194.3 L534.4,1195.4 L536.4,1196.4 L538.4,1197.3 L540.4,1198.1 L542.4,1198.8 L544.4,1199.6 L546.4,1200.2 L548.4,1200.8 L550.4,1201.3 L552.4,1201.7 L554.4,1202.1 L556.4,1202.5 L558.4,1202.9 L560.4,1203.2 L562.4,1203.6 L564.4,1203.9 L566.4,1204.3 L568.4,1204.7 L570.4,1205.0 L572.4,1205.4 L574.4,1205.8 L576.4,1206.2 L578.4,1206.6 L580.4,1207.0 L582.4,1207.4 L584.4,1207.8 L586.4,1208.3 L588.4,1208.7 L590.4,1209.1 L592.4,1209.6 L594.4,1210.0 L596.4,1210.5 L598.4,1210.9 L600.4,1211.4 L602.4,1211.9 L604.4,1212.4 L606.4,1212.9 L608.4,1213.3 L610.4,1213.7 L612.4,1214.0 L614.4,1214.2 L616.4,1214.1 L618.4,1213.7 L620.4,1213.1 L622.4,1212.4 L624.4,1211.5 L626.4,1210.5 L628.4,1209.4 L630.4,1208.4 L632.4,1207.3 L634.4,1206.2 L636.4,1205.1 L638.4,1204.0 L640.4,1202.9 L642.4,1201.8 L644.4,1200.7 L646.4,1199.6 L648.4,1198.6 L650.4,1197.5 L652.4,1196.5 L654.4,1195.4 L656.4,1194.3 L658.4,1193.2 L660.4,1192.1 L662.4,1191.0 L664.4,1190.0 L666.4,1189.0 L668.4,1188.1 L670.4,1187.2 L672.4,1186.3 L674.4,1185.5 L676.4,1184.7 L678.4,1183.9 L680.4,1183.2 L682.4,1182.4 L684.4,1181.7 L686.4,1181.1 L688.4,1180.5 L690.4,1179.8 L692.4,1179.2 L694.4,1178.5 L696.4,1177.8 L698.4,1177.0 L700.4,1176.2 L702.4,1175.5 L704.4,1174.8 L706.4,1174.1 L708.4,1173.5 L710.4,1172.8 L712.4,1172.2 L714.4,1171.7 L716.4,1171.2 L718.4,1170.8 L720.4,1170.3 L722.4,1169.9 L724.4,1169.5 L726.4,1169.0 L728.4,1168.6 L730.4,1168.3 L732.4,1167.9 L734.4,1167.5 L736.4,1167.2 L738.4,1166.9 L740.4,1166.7 L742.4,1166.7 L744.4,1166.9 L746.4,1167.2 L748.4,1167.5 L750.4,1167.8 L752.4,1168.1 L754.4,1168.6 L756.4,1169.1 L758.4,1169.7 L760.4,1170.3 L762.4,1170.9 L764.4,1171.5 L766.4,1172.3 L768.4,1173.2 L770.4,1174.1 L772.4,1175.1 L774.4,1176.1 L776.4,1177.1 L778.4,1178.2 L780.4,1179.4 L782.4,1180.6 L784.4,1181.9 L786.4,1183.2 L788.4,1184.4 L790.4,1185.8 L792.4,1187.1 L794.4,1188.5 L796.4,1189.9 L798.4,1191.4 L800.4,1192.8 L802.4,1194.3 L804.4,1195.7 L806.4,1197.2 L808.4,1198.7 L810.4,1200.1 L812.4,1201.6 L814.4,1203.1 L816.4,1204.6 L818.4,1206.2 L820.4,1207.8 L822.4,1209.3 L824.4,1210.9 L826.4,1212.5 L828.4,1214.1 L830.4,1215.7 L832.4,1217.3 L834.4,1218.9 L836.4,1220.5 L838.4,1222.1 L840.4,1223.7 L842.4,1225.3 L844.4,1226.8 L846.4,1228.3 L848.4,1229.8 L850.4,1231.3 L852.4,1232.7 L854.4,1234.2 L856.4,1235.5 L858.4,1236.8 L860.4,1238.1 L862.4,1239.3 L864.4,1240.4 L866.4,1241.5 L868.4,1242.4 L870.4,1243.2 L872.4,1244.0 L874.4,1244.8 L876.4,1245.5 L878.4,1246.2 L880.4,1246.7 L882.4,1247.2 L884.4,1247.6 L886.4,1248.1 L888.4,1248.5 L890.4,1248.9 L892.4,1249.3 L894.4,1249.7 L896.4,1250.1 L898.4,1250.4 L900.4,1250.8 L902.4,1251.1 L904.4,1251.4 L906.4,1251.8 L908.4,1252.1 L910.4,1252.3 L912.4,1252.6 L914.4,1252.8 L916.4,1253.0 L918.4,1253.3 L920.4,1253.5 L922.4,1253.7 L924.4,1253.9 L926.4,1254.1 L928.4,1254.3 L930.4,1254.5 L932.4,1254.6 L934.4,1254.8 L936.4,1255.0 L938.4,1255.2 L940.4,1255.4 L942.4,1255.7 L944.4,1255.9 L946.4,1256.2 L948.4,1256.5 L950.4,1256.7 L952.4,1256.9 L954.4,1257.1 L956.4,1257.2 L958.4,1257.2 L960.4,1257.3 L962.4,1257.4 L964.4,1257.4 L966.4,1257.4 L968.4,1257.4 L970.4,1257.6 L972.4,1258.1 L974.4,1258.8 L976.4,1259.6 L978.4,1260.3 L980.4,1260.8 L982.4,1261.1 L984.4,1261.4 L986.4,1261.5 L988.4,1261.5 L990.4,1261.5 L992.4,1261.4 L994.4,1261.2 L996.4,1261.0 L998.4,1260.9 L1000.4,1260.7 L1002.4,1260.5 L1004.4,1260.4 L1006.4,1260.2 L1008.4,1260.0 L1010.4,1259.9 L1012.4,1259.7 L1014.4,1259.5 L1016.4,1259.3 L1018.4,1259.0 L1020.4,1258.8 L1022.4,1258.6 L1024.4,1258.3 L1026.4,1258.0 L1028.4,1257.7 L1030.4,1257.4 L1032.4,1257.0 L1034.4,1256.7 L1036.4,1256.4 L1038.4,1256.0 L1040.4,1255.7 L1042.4,1255.4 L1044.4,1255.0 L1046.4,1254.7 L1048.4,1254.4 L1050.4,1254.0 L1052.4,1253.7 L1054.4,1253.3 L1056.4,1252.9 L1058.4,1252.6 L1060.4,1252.2 L1062.4,1251.8 L1064.4,1251.5 L1066.4,1251.2 L1068.4,1250.8 L1070.4,1250.5 L1072.4,1250.2 L1074.4,1249.8 L1076.4,1249.4 L1078.4,1249.0 L1080.4,1248.6 L1082.4,1248.2 L1084.4,1247.8 L1086.4,1247.5 L1088.4,1247.1 L1090.4,1246.8 L1092.4,1246.4 L1094.4,1246.1 L1096.4,1245.8 L1098.4,1245.4 L1100.4,1245.1 L1102.4,1244.8 L1104.4,1244.4 L1106.4,1244.1 L1108.4,1243.8 L1110.4,1243.4 L1112.4,1243.1 L1114.4,1242.8 L1116.4,1242.5 L1118.4,1242.2 L1120.4,1241.9 L1122.4,1241.6 L1123.0,1241.4 L1123.0,1428.3 L1122.4,1428.4 L1120.4,1428.4 L1118.4,1428.5 L1116.4,1428.5 L1114.4,1428.6 L1112.4,1428.6 L1110.4,1428.7 L1108.4,1428.6 L1106.4,1428.6 L1104.4,1428.5 L1102.4,1428.5 L1100.4,1428.4 L1098.4,1428.3 L1096.4,1428.2 L1094.4,1428.0 L1092.4,1427.8 L1090.4,1427.7 L1088.4,1427.5 L1086.4,1427.3 L1084.4,1427.1 L1082.4,1426.9 L1080.4,1426.7 L1078.4,1426.4 L1076.4,1426.2 L1074.4,1425.9 L1072.4,1425.7 L1070.4,1425.4 L1068.4,1425.1 L1066.4,1424.8 L1064.4,1424.5 L1062.4,1424.2 L1060.4,1423.8 L1058.4,1423.5 L1056.4,1423.1 L1054.4,1422.7 L1052.4,1422.4 L1050.4,1422.0 L1048.4,1421.6 L1046.4,1421.2 L1044.4,1420.7 L1042.4,1420.3 L1040.4,1419.9 L1038.4,1419.4 L1036.4,1419.0 L1034.4,1418.5 L1032.4,1418.0 L1030.4,1417.5 L1028.4,1417.0 L1026.4,1416.5 L1024.4,1415.9 L1022.4,1415.4 L1020.4,1414.8 L1018.4,1414.3 L1016.4,1413.7 L1014.4,1413.1 L1012.4,1412.5 L1010.4,1411.8 L1008.4,1411.2 L1006.4,1410.5 L1004.4,1409.9 L1002.4,1409.2 L1000.4,1408.5 L998.4,1407.9 L996.4,1407.2 L994.4,1406.5 L992.4,1405.9 L990.4,1405.2 L988.4,1404.6 L986.4,1404.1 L984.4,1403.6 L982.4,1403.1 L980.4,1402.8 L978.4,1402.7 L976.4,1402.8 L974.4,1402.8 L972.4,1402.8 L970.4,1402.6 L968.4,1402.2 L966.4,1401.6 L964.4,1400.9 L962.4,1400.2 L960.4,1399.5 L958.4,1398.8 L956.4,1398.0 L954.4,1397.2 L952.4,1396.4 L950.4,1395.6 L948.4,1394.7 L946.4,1393.9 L944.4,1393.0 L942.4,1392.2 L940.4,1391.3 L938.4,1390.4 L936.4,1389.5 L934.4,1388.6 L932.4,1387.6 L930.4,1386.7 L928.4,1385.8 L926.4,1384.8 L924.4,1383.9 L922.4,1382.9 L920.4,1382.0 L918.4,1381.0 L916.4,1380.1 L914.4,1379.1 L912.4,1378.1 L910.4,1377.1 L908.4,1376.2 L906.4,1375.2 L904.4,1374.2 L902.4,1373.2 L900.4,1372.2 L898.4,1371.2 L896.4,1370.2 L894.4,1369.2 L892.4,1368.2 L890.4,1367.2 L888.4,1366.2 L886.4,1365.2 L884.4,1364.2 L882.4,1363.2 L880.4,1362.2 L878.4,1361.2 L876.4,1360.3 L874.4,1359.4 L872.4,1358.5 L870.4,1357.6 L868.4,1356.8 L866.4,1356.2 L864.4,1355.6 L862.4,1355.1 L860.4,1354.7 L858.4,1354.2 L856.4,1353.7 L854.4,1353.3 L852.4,1353.0 L850.4,1352.6 L848.4,1352.3 L846.4,1352.0 L844.4,1351.7 L842.4,1351.4 L840.4,1351.1 L838.4,1350.9 L836.4,1350.7 L834.4,1350.4 L832.4,1350.2 L830.4,1350.0 L828.4,1349.7 L826.4,1349.5 L824.4,1349.4 L822.4,1349.2 L820.4,1349.0 L818.4,1348.9 L816.4,1348.7 L814.4,1348.5 L812.4,1348.3 L810.4,1348.2 L808.4,1348.0 L806.4,1347.8 L804.4,1347.6 L802.4,1347.4 L800.4,1347.2 L798.4,1347.0 L796.4,1346.8 L794.4,1346.6 L792.4,1346.4 L790.4,1346.2 L788.4,1346.0 L786.4,1345.8 L784.4,1345.6 L782.4,1345.4 L780.4,1345.2 L778.4,1345.1 L776.4,1344.9 L774.4,1344.8 L772.4,1344.7 L770.4,1344.5 L768.4,1344.4 L766.4,1344.3 L764.4,1344.3 L762.4,1344.3 L760.4,1344.3 L758.4,1344.4 L756.4,1344.4 L754.4,1344.4 L752.4,1344.5 L750.4,1344.6 L748.4,1344.6 L746.4,1344.7 L744.4,1344.8 L742.4,1344.8 L740.4,1344.8 L738.4,1344.5 L736.4,1344.2 L734.4,1343.9 L732.4,1343.5 L730.4,1343.2 L728.4,1342.9 L726.4,1342.7 L724.4,1342.5 L722.4,1342.4 L720.4,1342.2 L718.4,1342.1 L716.4,1342.0 L714.4,1341.8 L712.4,1341.7 L710.4,1341.6 L708.4,1341.5 L706.4,1341.5 L704.4,1341.4 L702.4,1341.4 L700.4,1341.4 L698.4,1341.7 L696.4,1342.0 L694.4,1342.2 L692.4,1342.4 L690.4,1342.5 L688.4,1342.5 L686.4,1342.6 L684.4,1342.6 L682.4,1342.7 L680.4,1342.8 L678.4,1343.0 L676.4,1343.2 L674.4,1343.4 L672.4,1343.6 L670.4,1343.8 L668.4,1344.0 L666.4,1344.1 L664.4,1344.2 L662.4,1344.3 L660.4,1344.5 L658.4,1344.6 L656.4,1344.7 L654.4,1344.9 L652.4,1345.1 L650.4,1345.3 L648.4,1345.5 L646.4,1345.7 L644.4,1345.9 L642.4,1346.0 L640.4,1346.1 L638.4,1346.2 L636.4,1346.3 L634.4,1346.3 L632.4,1346.4 L630.4,1346.6 L628.4,1346.8 L626.4,1346.9 L624.4,1347.1 L622.4,1347.4 L620.4,1347.6 L618.4,1348.0 L616.4,1348.6 L614.4,1349.3 L612.4,1350.0 L610.4,1350.8 L608.4,1351.6 L606.4,1352.4 L604.4,1353.2 L602.4,1354.1 L600.4,1354.9 L598.4,1355.6 L596.4,1356.3 L594.4,1356.9 L592.4,1357.4 L590.4,1358.0 L588.4,1358.4 L586.4,1358.7 L584.4,1358.8 L582.4,1358.9 L580.4,1359.0 L578.4,1359.0 L576.4,1358.9 L574.4,1358.7 L572.4,1358.5 L570.4,1358.2 L568.4,1357.8 L566.4,1357.3 L564.4,1356.7 L562.4,1356.0 L560.4,1355.2 L558.4,1354.4 L556.4,1353.5 L554.4,1352.6 L552.4,1351.6 L550.4,1350.6 L548.4,1349.6 L546.4,1348.7 L544.4,1347.8 L542.4,1347.0 L540.4,1346.1 L538.4,1345.4 L536.4,1344.8 L534.4,1344.3 L532.4,1344.0 L530.4,1343.7 L528.4,1343.4 L526.4,1343.1 L524.4,1342.9 L522.4,1342.6 L520.4,1342.3 L518.4,1342.1 L516.4,1341.9 L514.4,1341.6 L512.4,1341.4 L510.4,1341.1 L508.4,1340.8 L506.4,1340.5 L504.4,1340.1 L502.4,1339.8 L500.4,1339.6 L498.4,1339.6 L496.4,1339.7 L494.4,1340.0 L492.4,1340.4 L490.4,1341.2 L488.4,1342.3 L486.4,1343.6 L484.4,1344.9 L482.4,1346.2 L480.4,1347.4 L478.4,1348.5 L476.4,1349.6 L474.4,1350.7 L472.4,1351.8 L470.4,1352.9 L468.4,1354.0 L466.4,1355.1 L464.4,1356.2 L462.4,1357.4 L460.4,1358.6 L458.4,1359.8 L456.4,1361.0 L454.4,1362.4 L452.4,1363.8 L450.4,1365.5 L448.4,1367.2 L446.4,1369.0 L444.4,1370.8 L442.4,1372.6 L440.4,1374.5 L438.4,1376.4 L436.4,1378.4 L434.4,1380.4 L432.4,1382.4 L430.4,1384.3 L428.4,1386.0 L426.4,1387.7 L424.4,1389.4 L422.4,1391.0 L420.4,1392.4 L418.4,1393.6 L416.4,1394.5 L414.4,1395.4 L412.4,1396.2 L410.4,1397.0 L408.4,1397.7 L406.4,1398.3 L404.4,1398.8 L402.4,1399.2 L400.4,1399.3 L398.4,1399.0 L396.4,1398.5 L394.4,1397.8 L392.4,1396.9 L390.4,1396.0 L388.4,1395.0 L386.4,1394.0 L384.4,1393.0 L382.4,1392.0 L380.4,1391.0 L378.4,1390.0 L376.4,1389.0 L374.4,1388.0 L372.4,1387.0 L370.4,1385.9 L368.4,1384.9 L366.4,1383.7 L364.4,1382.6 L362.4,1381.4 L360.4,1380.2 L358.4,1379.1 L356.4,1377.9 L354.4,1376.8 L352.4,1375.7 L350.4,1374.6 L348.4,1373.5 L346.4,1372.5 L344.4,1371.4 L342.4,1370.3 L340.4,1369.2 L338.4,1368.2 L336.4,1367.1 L334.4,1366.0 L332.4,1364.9 L330.4,1363.8 L328.4,1362.7 L326.4,1361.6 L324.4,1360.5 L322.4,1359.4 L320.4,1358.3 L318.4,1357.2 L316.4,1356.1 L314.4,1355.0 L312.4,1353.9 L310.4,1352.8 L308.4,1351.6 L306.4,1350.3 L304.4,1349.0 L302.4,1347.6 L300.4,1346.3 L298.4,1345.0 L296.4,1343.7 L294.4,1342.6 L292.4,1341.6 L290.4,1340.6 L288.4,1339.7 L286.4,1338.9 L284.4,1338.1 L282.4,1337.5 L280.4,1336.9 L278.4,1336.2 L276.4,1335.6 L274.4,1335.0 L272.4,1334.4 L270.4,1333.7 L268.4,1333.1 L266.4,1332.7 L264.4,1332.3 L262.4,1332.0 L260.4,1331.8 L258.4,1331.5 L256.4,1331.2 L254.4,1331.0 L252.4,1330.8 L250.4,1330.6 L248.4,1330.4 L246.4,1330.3 L244.4,1330.1 L242.4,1330.0 L240.4,1329.9 L238.4,1329.7 L236.4,1329.6 L234.4,1329.5 L232.4,1329.4 L230.4,1329.3 L228.4,1329.2 L226.4,1329.0 L224.4,1328.9 L222.4,1328.8 L220.4,1328.7 L218.4,1328.5 L216.4,1328.2 L214.4,1328.0 L212.4,1327.7 L210.4,1327.4 L208.4,1327.1 L206.4,1326.8 L204.4,1326.5 L202.4,1326.2 L200.4,1325.9 L198.4,1325.7 L196.4,1325.6 L194.4,1325.6 L192.4,1325.7 L190.4,1325.8 L188.4,1326.1 L186.4,1326.5 L184.4,1326.9 L182.4,1327.4 L180.4,1328.0 L178.4,1328.8 L176.4,1329.6 L174.4,1330.5 L172.4,1331.3 L170.4,1332.2 L168.4,1333.1 L166.4,1334.0 L164.4,1334.9 L162.4,1335.7 L160.4,1336.6 L158.4,1337.5 L156.4,1338.4 L154.4,1339.2 L152.4,1340.1 L150.4,1340.9 L148.4,1341.7 L146.4,1342.6 L144.4,1343.4Z" fill="#cccccc"/>
<path d="M144.4,1125.4 L146.4,1126.7 L148.4,1127.9 L150.4,1129.1 L152.4,1130.3 L154.4,1131.5 L156.4,1132.7 L158.4,1133.9 L160.4,1135.1 L162.4,1136.4 L164.4,1137.6 L166.4,1138.8 L168.4,1140.0 L170.4,1141.3 L172.4,1142.5 L174.4,1143.7 L176.4,1145.0 L178.4,1146.2 L180.4,1147.4 L182.4,1148.7 L184.4,1149.9 L186.4,1151.2 L188.4,1152.4 L190.4,1153.7 L192.4,1154.9 L194.4,1156.2 L196.4,1157.4 L198.4,1158.7 L200.4,1159.9 L202.4,1161.2 L204.4,1162.4 L206.4,1163.7 L208.4,1164.9 L210.4,1166.2 L212.4,1167.4 L214.4,1168.7 L216.4,1169.9 L218.4,1171.1 L220.4,1172.4 L222.4,1173.6 L224.4,1174.8 L226.4,1176.0 L228.4,1177.2 L230.4,1178.4 L232.4,1179.6 L234.4,1180.8 L236.4,1182.0 L238.4,1183.2 L240.4,1184.4 L242.4,1185.5 L244.4,1186.7 L246.4,1187.9 L248.4,1189.1 L250.4,1190.2 L252.4,1191.4 L254.4,1192.5 L256.4,1193.7 L258.4,1194.8 L260.4,1196.0 L262.4,1197.1 L264.4,1198.2 L266.4,1199.3 L268.4,1200.4 L270.4,1201.5 L272.4,1202.6 L274.4,1203.7 L276.4,1204.7 L278.4,1205.8 L280.4,1206.8 L282.4,1207.9 L284.4,1208.9 L286.4,1209.9 L288.4,1210.9 L290.4,1211.9 L292.4,1212.9 L294.4,1213.9 L296.4,1214.9 L298.4,1215.8 L300.4,1216.8 L302.4,1217.8 L304.4,1218.7 L306.4,1219.6 L308.4,1220.6 L310.4,1221.5 L312.4,1222.4 L314.4,1223.3 L316.4,1224.2 L318.4,1225.1 L320.4,1225.9 L322.4,1226.8 L324.4,1227.6 L326.4,1228.4 L328.4,1229.3 L330.4,1230.1 L332.4,1230.9 L334.4,1231.7 L336.4,1232.5 L338.4,1233.3 L340.4,1234.1 L342.4,1234.8 L344.4,1235.6 L346.4,1236.4 L348.4,1237.2 L350.4,1237.9 L352.4,1238.7 L354.4,1239.5 L356.4,1240.2 L358.4,1241.0 L360.4,1241.7 L362.4,1242.5 L364.4,1243.2 L366.4,1244.0 L368.4,1244.7 L370.4,1245.4 L372.4,1246.2 L374.4,1246.9 L376.4,1247.6 L378.4,1248.3 L380.4,1249.0 L382.4,1249.7 L384.4,1250.4 L386.4,1251.1 L388.4,1251.7 L390.4,1252.4 L392.4,1253.1 L394.4,1253.7 L396.4,1254.3 L398.4,1254.9 L400.4,1255.5 L402.4,1256.1 L404.4,1256.7 L406.4,1257.3 L408.4,1257.8 L410.4,1258.3 L412.4,1258.8 L414.4,1259.3 L416.4,1259.7 L418.4,1260.1 L420.4,1260.5 L422.4,1260.8 L424.4,1261.2 L426.4,1261.5 L428.4,1261.7 L430.4,1262.0 L432.4,1262.2 L434.4,1262.4 L436.4,1262.6 L438.4,1262.8 L440.4,1262.9 L442.4,1263.0 L444.4,1263.1 L446.4,1263.1 L448.4,1263.1 L450.4,1263.1 L452.4,1263.0 L454.4,1262.8 L456.4,1262.7 L458.4,1262.5 L460.4,1262.3 L462.4,1262.1 L464.4,1261.8 L466.4,1261.5 L468.4,1261.3 L470.4,1261.0 L472.4,1260.8 L474.4,1260.5 L476.4,1260.3 L478.4,1260.1 L480.4,1260.0 L482.4,1259.8 L484.4,1259.7 L486.4,1259.7 L488.4,1259.7 L490.4,1259.7 L492.4,1259.8 L494.4,1259.9 L496.4,1260.0 L498.4,1260.3 L500.4,1260.5 L502.4,1260.9 L504.4,1261.2 L506.4,1261.6 L508.4,1262.1 L510.4,1262.6 L512.4,1263.2 L514.4,1263.8 L516.4,1264.4 L518.4,1265.1 L520.4,1265.8 L522.4,1266.5 L524.4,1267.2 L526.4,1268.0 L528.4,1268.8 L530.4,1269.5 L532.4,1270.3 L534.4,1271.1 L536.4,1271.8 L538.4,1272.6 L540.4,1273.3 L542.4,1274.1 L544.4,1274.8 L546.4,1275.5 L548.4,1276.2 L550.4,1276.8 L552.4,1277.4 L554.4,1278.0 L556.4,1278.6 L558.4,1279.1 L560.4,1279.6 L562.4,1280.1 L564.4,1280.6 L566.4,1281.0 L568.4,1281.4 L570.4,1281.7 L572.4,1282.0 L574.4,1282.3 L576.4,1282.6 L578.4,1282.8 L580.4,1283.0 L582.4,1283.2 L584.4,1283.3 L586.4,1283.4 L588.4,1283.4 L590.4,1283.5 L592.4,1283.5 L594.4,1283.4 L596.4,1283.4 L598.4,1283.3 L600.4,1283.1 L602.4,1283.0 L604.4,1282.8 L606.4,1282.5 L608.4,1282.3 L610.4,1282.0 L612.4,1281.7 L614.4,1281.3 L616.4,1280.9 L618.4,1280.5 L620.4,1280.1 L622.4,1279.6 L624.4,1279.1 L626.4,1278.6 L628.4,1278.1 L630.4,1277.5 L632.4,1277.0 L634.4,1276.4 L636.4,1275.8 L638.4,1275.1 L640.4,1274.5 L642.4,1273.8 L644.4,1273.1 L646.4,1272.5 L648.4,1271.8 L650.4,1271.1 L652.4,1270.4 L654.4,1269.7 L656.4,1269.1 L658.4,1268.4 L660.4,1267.7 L662.4,1267.1 L664.4,1266.4 L666.4,1265.8 L668.4,1265.2 L670.4,1264.6 L672.4,1264.0 L674.4,1263.5 L676.4,1262.9 L678.4,1262.4 L680.4,1261.9 L682.4,1261.5 L684.4,1261.1 L686.4,1260.7 L688.4,1260.3 L690.4,1260.0 L692.4,1259.7 L694.4,1259.4 L696.4,1259.1 L698.4,1258.9 L700.4,1258.6 L702.4,1258.3 L704.4,1258.1 L706.4,1257.8 L708.4,1257.5 L710.4,1257.3 L712.4,1257.0 L714.4,1256.8 L716.4,1256.6 L718.4,1256.3 L720.4,1256.2 L722.4,1256.0 L724.4,1255.8 L726.4,1255.7 L728.4,1255.6 L730.4,1255.5 L732.4,1255.5 L734.4,1255.5 L736.4,1255.4 L738.4,1255.5 L740.4,1255.5 L742.4,1255.6 L744.4,1255.6 L746.4,1255.7 L748.4,1255.9 L750.4,1256.0 L752.4,1256.2 L754.4,1256.4 L756.4,1256.6 L758.4,1256.9 L760.4,1257.2 L762.4,1257.6 L764.4,1257.9 L766.4,1258.3 L768.4,1258.8 L770.4,1259.3 L772.4,1259.8 L774.4,1260.3 L776.4,1260.9 L778.4,1261.5 L780.4,1262.2 L782.4,1262.8 L784.4,1263.5 L786.4,1264.3 L788.4,1265.0 L790.4,1265.8 L792.4,1266.6 L794.4,1267.4 L796.4,1268.3 L798.4,1269.1 L800.4,1270.0 L802.4,1270.9 L804.4,1271.8 L806.4,1272.8 L808.4,1273.7 L810.4,1274.6 L812.4,1275.6 L814.4,1276.5 L816.4,1277.5 L818.4,1278.4 L820.4,1279.4 L822.4,1280.4 L824.4,1281.3 L826.4,1282.3 L828.4,1283.2 L830.4,1284.2 L832.4,1285.1 L834.4,1286.1 L836.4,1287.0 L838.4,1288.0 L840.4,1288.9 L842.4,1289.8 L844.4,1290.8 L846.4,1291.7 L848.4,1292.6 L850.4,1293.5 L852.4,1294.4 L854.4,1295.2 L856.4,1296.1 L858.4,1297.0 L860.4,1297.8 L862.4,1298.6 L864.4,1299.5 L866.4,1300.3 L868.4,1301.1 L870.4,1301.9 L872.4,1302.7 L874.4,1303.5 L876.4,1304.2 L878.4,1305.0 L880.4,1305.8 L882.4,1306.5 L884.4,1307.2 L886.4,1307.9 L888.4,1308.6 L890.4,1309.3 L892.4,1310.0 L894.4,1310.7 L896.4,1311.4 L898.4,1312.0 L900.4,1312.7 L902.4,1313.3 L904.4,1314.0 L906.4,1314.6 L908.4,1315.2 L910.4,1315.8 L912.4,1316.5 L914.4,1317.1 L916.4,1317.7 L918.4,1318.3 L920.4,1318.8 L922.4,1319.4 L924.4,1320.0 L926.4,1320.5 L928.4,1321.1 L930.4,1321.6 L932.4,1322.1 L934.4,1322.6 L936.4,1323.1 L938.4,1323.6 L940.4,1324.1 L942.4,1324.6 L944.4,1325.0 L946.4,1325.5 L948.4,1325.9 L950.4,1326.4 L952.4,1326.8 L954.4,1327.2 L956.4,1327.7 L958.4,1328.1 L960.4,1328.6 L962.4,1329.0 L964.4,1329.4 L966.4,1329.9 L968.4,1330.3 L970.4,1330.7 L972.4,1331.1 L974.4,1331.5 L976.4,1331.8 L978.4,1332.2 L980.4,1332.5 L982.4,1332.8 L984.4,1333.1 L986.4,1333.4 L988.4,1333.7 L990.4,1334.0 L992.4,1334.3 L994.4,1334.6 L996.4,1334.8 L998.4,1335.1 L1000.4,1335.3 L1002.4,1335.5 L1004.4,1335.7 L1006.4,1335.9 L1008.4,1336.1 L1010.4,1336.3 L1012.4,1336.5 L1014.4,1336.7 L1016.4,1336.8 L1018.4,1337.0 L1020.4,1337.1 L1022.4,1337.3 L1024.4,1337.4 L1026.4,1337.5 L1028.4,1337.6 L1030.4,1337.7 L1032.4,1337.8 L1034.4,1337.9 L1036.4,1338.0 L1038.4,1338.0 L1040.4,1338.1 L1042.4,1338.1 L1044.4,1338.2 L1046.4,1338.2 L1048.4,1338.2 L1050.4,1338.2 L1052.4,1338.3 L1054.4,1338.3 L1056.4,1338.3 L1058.4,1338.3 L1060.4,1338.3 L1062.4,1338.2 L1064.4,1338.2 L1066.4,1338.2 L1068.4,1338.1 L1070.4,1338.1 L1072.4,1338.0 L1074.4,1338.0 L1076.4,1337.9 L1078.4,1337.8 L1080.4,1337.7 L1082.4,1337.7 L1084.4,1337.6 L1086.4,1337.5 L1088.4,1337.4 L1090.4,1337.3 L1092.4,1337.2 L1094.4,1337.0 L1096.4,1336.9 L1098.4,1336.8 L1100.4,1336.7 L1102.4,1336.6 L1104.4,1336.4 L1106.4,1336.3 L1108.4,1336.2 L1110.4,1336.0 L1112.4,1335.9 L1114.4,1335.8 L1116.4,1335.6 L1118.4,1335.5 L1120.4,1335.4 L1122.4,1335.2 L1123.0,1335.1" fill="none" stroke="#2222e2" stroke-width="1.8" stroke-linejoin="round"/>
<line x1="96.75" x2="1171.3" y1="1263.9" y2="1263.9" stroke="#f20000" stroke-width="3.2" stroke-linecap="round" stroke-dasharray="0.5 11.903"/>
</g>
<rect x="96.0" y="882.3" width="1075.3" height="571.5" fill="none" stroke="#525252" stroke-width="2.0" stroke-linejoin="round"/>
<line x1="87.0" x2="96.0" y1="1435.4" y2="1435.4" stroke="#2b2b2b" stroke-width="2.6"/>
<text transform="translate(80.5,1444.5) scale(0.985,1)" text-anchor="end" font-size="25.5" fill="#111">-0.2</text>
<line x1="87.0" x2="96.0" y1="1263.9" y2="1263.9" stroke="#2b2b2b" stroke-width="2.6"/>
<text transform="translate(80.5,1273.0) scale(0.985,1)" text-anchor="end" font-size="25.5" fill="#111">0.0</text>
<line x1="87.0" x2="96.0" y1="1092.4" y2="1092.4" stroke="#2b2b2b" stroke-width="2.6"/>
<text transform="translate(80.5,1101.5) scale(0.985,1)" text-anchor="end" font-size="25.5" fill="#111">0.2</text>
<line x1="87.0" x2="96.0" y1="920.9" y2="920.9" stroke="#2b2b2b" stroke-width="2.6"/>
<text transform="translate(80.5,930.0) scale(0.985,1)" text-anchor="end" font-size="25.5" fill="#111">0.4</text>
<line x1="167.1" x2="167.1" y1="1453.8" y2="1462.8" stroke="#2b2b2b" stroke-width="2.6"/>
<text transform="translate(182.9,1478.4) rotate(-60)" text-anchor="end" font-size="25.9" fill="#111">2020-02</text>
<line x1="265.8" x2="265.8" y1="1453.8" y2="1462.8" stroke="#2b2b2b" stroke-width="2.6"/>
<text transform="translate(281.6,1478.4) rotate(-60)" text-anchor="end" font-size="25.9" fill="#111">2020-05</text>
<line x1="366.6" x2="366.6" y1="1453.8" y2="1462.8" stroke="#2b2b2b" stroke-width="2.6"/>
<text transform="translate(382.4,1478.4) rotate(-60)" text-anchor="end" font-size="25.9" fill="#111">2020-08</text>
<line x1="467.4" x2="467.4" y1="1453.8" y2="1462.8" stroke="#2b2b2b" stroke-width="2.6"/>
<text transform="translate(483.2,1478.4) rotate(-60)" text-anchor="end" font-size="25.9" fill="#111">2020-11</text>
<line x1="568.3" x2="568.3" y1="1453.8" y2="1462.8" stroke="#2b2b2b" stroke-width="2.6"/>
<text transform="translate(584.1,1478.4) rotate(-60)" text-anchor="end" font-size="25.9" fill="#111">2021-02</text>
<line x1="665.9" x2="665.9" y1="1453.8" y2="1462.8" stroke="#2b2b2b" stroke-width="2.6"/>
<text transform="translate(681.7,1478.4) rotate(-60)" text-anchor="end" font-size="25.9" fill="#111">2021-05</text>
<line x1="766.7" x2="766.7" y1="1453.8" y2="1462.8" stroke="#2b2b2b" stroke-width="2.6"/>
<text transform="translate(782.5,1478.4) rotate(-60)" text-anchor="end" font-size="25.9" fill="#111">2021-08</text>
<line x1="867.5" x2="867.5" y1="1453.8" y2="1462.8" stroke="#2b2b2b" stroke-width="2.6"/>
<text transform="translate(883.3,1478.4) rotate(-60)" text-anchor="end" font-size="25.9" fill="#111">2021-11</text>
<line x1="968.4" x2="968.4" y1="1453.8" y2="1462.8" stroke="#2b2b2b" stroke-width="2.6"/>
<text transform="translate(984.2,1478.4) rotate(-60)" text-anchor="end" font-size="25.9" fill="#111">2022-02</text>
<line x1="1066.0" x2="1066.0" y1="1453.8" y2="1462.8" stroke="#2b2b2b" stroke-width="2.6"/>
<text transform="translate(1081.8,1478.4) rotate(-60)" text-anchor="end" font-size="25.9" fill="#111">2022-05</text>
<line x1="1166.8" x2="1166.8" y1="1453.8" y2="1462.8" stroke="#2b2b2b" stroke-width="2.6"/>
<text transform="translate(1182.6,1478.4) rotate(-60)" text-anchor="end" font-size="25.9" fill="#111">2022-08</text>
<text transform="translate(22.6,1168.5) rotate(-90)" text-anchor="middle" font-size="31.9" fill="#000">Wiki</text>
<g fill="#000"><text x="96.2" y="33.9" font-size="38.4">tvPLM</text><text x="204.6" y="33.3" font-size="42.5">(</text><text x="218.9" y="33.9" font-size="38.4">Skew</text><text x="313.7" y="40.8" font-size="26">t</text><text x="322.9" y="40.8" font-size="26">+</text><text x="339.8" y="40.8" font-size="26">1</text><text x="354.2" y="33.3" font-size="42.5">)</text></g>
<g fill="#000"><text x="96.2" y="849.5" font-size="38.4">tvPLM</text><text x="204.6" y="848.9" font-size="42.5">(</text><text x="218.9" y="849.5" font-size="38.4">Skew</text><text x="313.7" y="856.4" font-size="26">t</text><text x="322.0" y="848.9" font-size="42.5">)</text></g>
</svg></body></html>
